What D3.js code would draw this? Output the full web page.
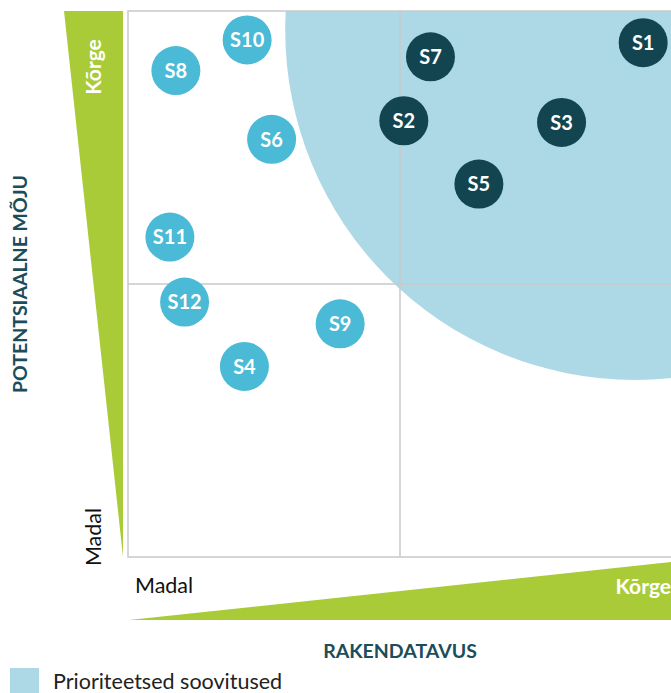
<!DOCTYPE html>
<html>
<head>
<meta charset="utf-8">
<script src="https://cdn.jsdelivr.net/npm/d3@7"></script>
<style>
  html, body { margin: 0; padding: 0; background: #fff; }
  svg { display: block; font-family: Lato, "Open Sans", sans-serif; }
</style>
</head>
<body>
<svg id="chart" width="671" height="693"></svg>
<script>
// ---- Data ----
const labels     = ["S1","S2","S3","S4","S5","S6","S7","S8","S9","S10","S11","S12"];
const feasibility = [9.47, 5.07, 7.97, 2.14, 6.45, 2.64, 5.56, 0.88, 3.90, 2.19, 0.77, 1.04]; // RAKENDATAVUS
const impact      = [9.42, 7.99, 7.96, 3.49, 6.83, 7.65, 9.16, 8.91, 4.27, 9.47, 5.86, 4.67]; // POTENTSIAALNE MÕJU
const priority    = [true, true, true, false, true, false, true, false, false, false, false, false];
const axisLow  = "Madal";
const axisHigh = "Kõrge";
const xTitle = "RAKENDATAVUS";
const yTitle = "POTENTSIAALNE MÕJU";
const legendLabel = "Prioriteetsed soovitused";
// priority zone (circle) in data units
const zoneCenter = [9.32, 9.65];
const zoneRadius = 6.43;

// ---- Layout ----
const svg = d3.select("#chart");
const plot = {left: 128, top: 11, right: 672, bottom: 557};
const x = d3.scaleLinear().domain([0, 10]).range([plot.left, plot.right]);
const y = d3.scaleLinear().domain([0, 10]).range([plot.bottom, plot.top]);

const colGreen = "#A9CB38";
const colZone = "#ADD9E6";
const colLight = "#4ABAD6";
const colDark = "#134551";
const colTitle = "#1C4D5A";
const colGrid = "#C9C9C9";

// clip
svg.append("clipPath").attr("id", "plotClip")
  .append("rect").attr("x", plot.left).attr("y", plot.top)
  .attr("width", plot.right - plot.left).attr("height", plot.bottom - plot.top);

// priority zone
svg.append("g").attr("clip-path", "url(#plotClip)")
  .append("circle")
  .attr("cx", x(zoneCenter[0])).attr("cy", y(zoneCenter[1]))
  .attr("r", x(zoneRadius) - x(0))
  .attr("fill", colZone);

// box + midlines
const g = svg.append("g");
g.append("rect")
  .attr("x", plot.left).attr("y", plot.top)
  .attr("width", plot.right - plot.left).attr("height", plot.bottom - plot.top)
  .attr("fill", "none").attr("stroke", colGrid).attr("stroke-width", 1.5);
g.append("line").attr("x1", x(5)).attr("x2", x(5)).attr("y1", y(0)).attr("y2", y(10))
  .attr("stroke", colGrid).attr("stroke-width", 1.5);
g.append("line").attr("x1", x(0)).attr("x2", x(10)).attr("y1", y(5)).attr("y2", y(5))
  .attr("stroke", colGrid).attr("stroke-width", 1.5);

// green wedges
svg.append("path")
  .attr("d", `M64,${plot.top} L123,${plot.top} L123,${plot.bottom} Z`)
  .attr("fill", colGreen);
svg.append("path")
  .attr("d", `M129,620 L672,562 L672,620 Z`)
  .attr("fill", colGreen);

// wedge labels
svg.append("text")
  .attr("transform", "translate(101,67) rotate(-90)")
  .attr("text-anchor", "middle")
  .attr("font-size", 21).attr("font-weight", 700).attr("fill", "#fff")
  .text(axisHigh);
svg.append("text")
  .attr("transform", "translate(101,537) rotate(-90)")
  .attr("text-anchor", "middle")
  .attr("font-size", 21.5).attr("fill", "#111")
  .text(axisLow);
svg.append("text")
  .attr("x", 135).attr("y", 593)
  .attr("font-size", 21.5).attr("fill", "#111")
  .text(axisLow);
svg.append("text")
  .attr("x", 671).attr("y", 594)
  .attr("text-anchor", "end")
  .attr("font-size", 21).attr("font-weight", 700).attr("fill", "#fff")
  .text(axisHigh);

// axis titles
svg.append("text")
  .attr("x", 400).attr("y", 658)
  .attr("text-anchor", "middle")
  .attr("font-size", 19.5).attr("font-weight", 700).attr("fill", colTitle)
  .text(xTitle);
svg.append("text")
  .attr("transform", "translate(27,284) rotate(-90)")
  .attr("text-anchor", "middle")
  .attr("font-size", 19.5).attr("font-weight", 700).attr("fill", colTitle)
  .text(yTitle);

// points
const pts = labels.map((l, i) => ({label: l, fx: feasibility[i], im: impact[i], pr: priority[i]}));
const node = svg.append("g").selectAll("g").data(pts).join("g")
  .attr("transform", d => `translate(${x(d.fx)},${y(d.im)})`);
node.append("circle").attr("r", 24.5)
  .attr("fill", d => d.pr ? colDark : colLight);
node.append("text")
  .attr("text-anchor", "middle").attr("dy", "0.36em")
  .attr("font-size", 20).attr("font-weight", 700).attr("fill", "#fff")
  .text(d => d.label);

// legend
svg.append("rect").attr("x", 10).attr("y", 668).attr("width", 29).attr("height", 26).attr("fill", colZone);
svg.append("text").attr("x", 53).attr("y", 689)
  .attr("font-size", 21.5).attr("fill", "#222")
  .text(legendLabel);
</script>
</body>
</html>
